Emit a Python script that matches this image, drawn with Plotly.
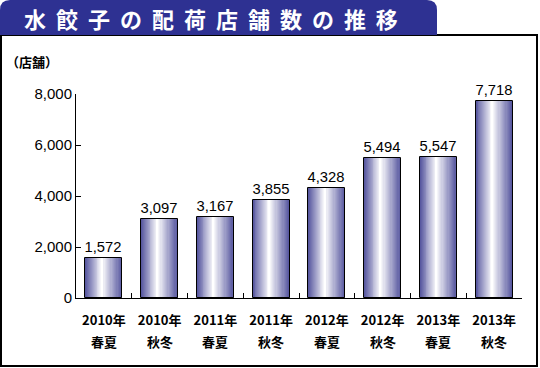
import plotly.graph_objects as go

years = ["2010年", "2010年", "2011年", "2011年", "2012年", "2012年", "2013年", "2013年"]
seasons = ["春夏", "秋冬", "春夏", "秋冬", "春夏", "秋冬", "春夏", "秋冬"]
categories = [f"{y} {s}" for y, s in zip(years, seasons)]
values = [1572, 3097, 3167, 3855, 4328, 5494, 5547, 7718]
labels = [f"{v:,}" for v in values]
title_text = "水  餃  子  の  配  荷  店  舗  数  の  推  移"
unit_text = "（店舗）"

W, H = 540, 368
ML, MR, MT, MB = 76, 18, 94, 70
PW, PH = W - ML - MR, H - MT - MB

def px(x):
    return (x - ML) / PW

def py(y):
    return (H - MB - y) / PH

fig = go.Figure()

# gradient via nested bars
N = 18
BW = 0.66
edge = (88, 88, 160)
for i in range(N):
    t = i / (N - 1)
    w = BW * (1 - t * 0.97)
    center = -0.06 * BW * t
    r = int(edge[0] + (255 - edge[0]) * t)
    g = int(edge[1] + (255 - edge[1]) * t)
    b = int(edge[2] + (255 - edge[2]) * t)
    fig.add_trace(go.Bar(
        x=categories, y=values, width=w, offset=center - w / 2,
        marker=dict(color=f"rgb({r},{g},{b})", line=dict(width=0)),
        hoverinfo="skip", showlegend=False))

# outline + labels
fig.add_trace(go.Bar(
    x=categories, y=values, width=BW, offset=-BW / 2,
    marker=dict(color="rgba(0,0,0,0)", line=dict(color="black", width=1)),
    text=labels, textposition="outside", cliponaxis=False,
    textfont=dict(size=15, color="black", family="Liberation Sans"),
    showlegend=False))

shapes = []
# outer box
shapes.append(dict(type="rect", xref="paper", yref="paper",
                   x0=px(1), x1=px(537), y0=py(366), y1=py(35),
                   line=dict(color="black", width=2), fillcolor="rgba(0,0,0,0)", layer="below"))
# banner with rounded top corners
rx, ry = 10 / PW, 10 / PH
x0, x1, y0, y1 = px(0), px(437), py(35), py(0)
path = (f"M {x0},{y0} L {x0},{y1 - ry} Q {x0},{y1} {x0 + rx},{y1} "
        f"L {x1 - rx},{y1} Q {x1},{y1} {x1},{y1 - ry} L {x1},{y0} Z")
shapes.append(dict(type="path", xref="paper", yref="paper", path=path,
                   fillcolor="#2E3192", line=dict(width=0)))

annotations = [
    dict(text=f"<b>{title_text}</b>", xref="paper", yref="paper",
         x=px(22), y=py(18), xanchor="left", yanchor="middle", showarrow=False,
         font=dict(size=22, color="white", family="Noto Sans CJK JP")),
    dict(text=f"<b>{unit_text}</b>", xref="paper", yref="paper",
         x=px(4), y=py(62), xanchor="left", yanchor="middle", showarrow=False,
         font=dict(size=13, color="black", family="Noto Sans CJK JP")),
]
for c, s in zip(categories, seasons):
    annotations.append(dict(text=s, xref="x", yref="paper", x=c, y=py(341),
                            xanchor="center", yanchor="middle", showarrow=False,
                            font=dict(size=13, color="black", family="Noto Sans CJK JP",
                                      weight=700)))

fig.update_layout(
    width=W, height=H, margin=dict(l=ML, r=MR, t=MT, b=MB),
    paper_bgcolor="white", plot_bgcolor="white",
    barmode="overlay", bargap=0,
    shapes=shapes, annotations=annotations,
    xaxis=dict(type="category", showline=True, linecolor="black", linewidth=1,
               ticks="inside", ticklen=5, tickcolor="black", tickson="boundaries",
               tickvals=categories, ticktext=years,
               showgrid=False, automargin=False, tickangle=0, ticklabelstandoff=10,
               tickfont=dict(size=13, color="black", family="Noto Sans CJK JP", weight=700)),
    yaxis=dict(range=[0, 8000], dtick=2000, tickformat=",d", showline=True,
               linecolor="black", linewidth=1, ticks="inside", ticklen=5, tickcolor="black",
               showgrid=False, zeroline=False, automargin=False,
               tickfont=dict(size=15, color="black", family="Liberation Sans")),
)

fig.write_html("out.html", config={"displayModeBar": False},
               post_script="document.body.style.margin='0';document.body.style.padding='0';")
